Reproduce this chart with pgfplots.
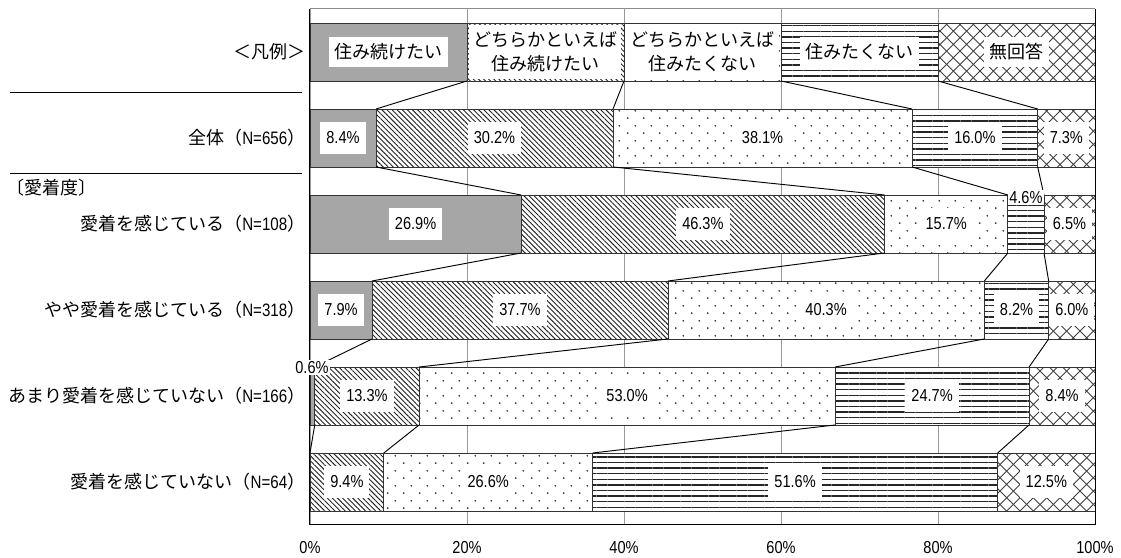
\documentclass[border=0pt]{standalone}
\usepackage{fontspec}
\setmainfont{Noto Sans CJK JP}
\newfontfamily\nf{Liberation Sans}[FakeStretch=0.84]
\usepackage{pgfplots}
\pgfplotsset{compat=1.18}
\usetikzlibrary{patterns,patterns.meta}

\pgfdeclarepatternformonly{sdots}{\pgfpointorigin}{\pgfpoint{12pt}{11.5pt}}{\pgfpoint{12pt}{11.5pt}}{%
 \pgfpathcircle{\pgfpoint{3pt}{3pt}}{0.75pt}%
 \pgfpathcircle{\pgfpoint{9pt}{8.75pt}}{0.75pt}%
 \pgfusepath{fill}}
\pgfdeclarepatternformonly{xhatch}{\pgfpoint{-0.5pt}{-0.5pt}}{\pgfpoint{10.5pt}{10.5pt}}{\pgfpoint{10pt}{10pt}}{%
 \pgfsetlinewidth{0.65pt}%
 \pgfpathmoveto{\pgfpoint{0pt}{0pt}}\pgfpathlineto{\pgfpoint{10pt}{10pt}}%
 \pgfpathmoveto{\pgfpoint{0pt}{10pt}}\pgfpathlineto{\pgfpoint{10pt}{0pt}}%
 \pgfusepath{stroke}}

\definecolor{barfill}{HTML}{A6A6A6}
\newcommand\lf{\fontsize{13.5pt}{18pt}\selectfont}
\newcommand\vf{\nf\fontsize{13pt}{15pt}\selectfont}

\begin{document}
\begin{tikzpicture}
\pgfplotsset{common/.style={scale only axis, width=588.75pt, height=387pt,
  xmin=0, xmax=100, ymin=-0.5, ymax=5.5}}
\begin{axis}[common,
  xbar stacked, bar width=0.674,
  xtick={0,20,40,60,80,100},
  xticklabels={0\%,20\%,40\%,60\%,80\%,100\%},
  xticklabel style={font=\vf, yshift=-8.5pt},
  ytick={0,1,2,3,4,5},
  yticklabels={
    {愛着を感じていない（{\nf N=64}）},
    {あまり愛着を感じていない（{\nf N=166}）},
    {やや愛着を感じている（{\nf N=318}）},
    {愛着を感じている（{\nf N=108}）},
    {全体（{\nf N=656}）},
    {＜凡例＞}},
  yticklabel style={font=\lf},
  xmajorgrids, grid style={black!40, line width=0.6pt},
  major tick length=0pt,
  axis line style={draw=none},
]
\addplot[fill=barfill, draw=black!80, line width=0.6pt]
  coordinates {(0,0) (0.6,1) (7.9,2) (26.9,3) (8.4,4) (20,5)};
\addplot[fill=white, postaction={pattern={Lines[angle=-45,distance=2.7pt,line width=0.7pt]}, pattern color=black!85}, draw=black!80, line width=0.6pt]
  coordinates {(9.4,0) (13.3,1) (37.7,2) (46.3,3) (30.2,4) (20,5)};
\addplot[fill=white, postaction={pattern=sdots, pattern color=black!80}, draw=black!80, line width=0.6pt]
  coordinates {(26.6,0) (53.0,1) (40.3,2) (15.7,3) (38.1,4) (20,5)};
\addplot[fill=white, postaction={pattern={Lines[angle=0,distance=4.2pt,line width=1.1pt]}, pattern color=black!85}, draw=black!80, line width=0.6pt]
  coordinates {(51.6,0) (24.7,1) (8.2,2) (4.6,3) (16.0,4) (20,5)};
\addplot[fill=white, postaction={pattern=xhatch, pattern color=black!75}, draw=black!80, line width=0.6pt]
  coordinates {(12.5,0) (8.4,1) (6.0,2) (6.5,3) (7.3,4) (20,5)};
\end{axis}

\begin{axis}[common, hide axis, clip=false]
\draw[black, line width=0.75pt] (rel axis cs:0,1) -- (rel axis cs:0,0) -- (rel axis cs:1,0) -- (rel axis cs:1,1);
\draw[black!45, line width=0.75pt] (rel axis cs:0,1) -- (rel axis cs:1,1);
% connectors
\addplot[black, line width=0.7pt, mark=none] coordinates {(20,4.663) (8.4,4.337)};
\addplot[black, line width=0.7pt, mark=none] coordinates {(40,4.663) (38.6,4.337)};
\addplot[black, line width=0.7pt, mark=none] coordinates {(60,4.663) (76.7,4.337)};
\addplot[black, line width=0.7pt, mark=none] coordinates {(80,4.663) (92.7,4.337)};
\addplot[black, line width=0.7pt, mark=none] coordinates {(8.4,3.663) (26.9,3.337)};
\addplot[black, line width=0.7pt, mark=none] coordinates {(38.6,3.663) (73.2,3.337)};
\addplot[black, line width=0.7pt, mark=none] coordinates {(76.7,3.663) (88.9,3.337)};
\addplot[black, line width=0.7pt, mark=none] coordinates {(92.7,3.663) (93.5,3.337)};
\addplot[black, line width=0.7pt, mark=none] coordinates {(26.9,2.663) (7.9,2.337)};
\addplot[black, line width=0.7pt, mark=none] coordinates {(73.2,2.663) (45.6,2.337)};
\addplot[black, line width=0.7pt, mark=none] coordinates {(88.9,2.663) (85.9,2.337)};
\addplot[black, line width=0.7pt, mark=none] coordinates {(93.5,2.663) (94.1,2.337)};
\addplot[black, line width=0.7pt, mark=none] coordinates {(7.9,1.663) (0.6,1.337)};
\addplot[black, line width=0.7pt, mark=none] coordinates {(45.6,1.663) (13.9,1.337)};
\addplot[black, line width=0.7pt, mark=none] coordinates {(85.9,1.663) (66.9,1.337)};
\addplot[black, line width=0.7pt, mark=none] coordinates {(94.1,1.663) (91.6,1.337)};
\addplot[black, line width=0.7pt, mark=none] coordinates {(0.6,0.663) (0,0.337)};
\addplot[black, line width=0.7pt, mark=none] coordinates {(13.9,0.663) (9.4,0.337)};
\addplot[black, line width=0.7pt, mark=none] coordinates {(66.9,0.663) (36.0,0.337)};
\addplot[black, line width=0.7pt, mark=none] coordinates {(91.6,0.663) (87.6,0.337)};
% value labels
\addplot[draw=none, mark=none, point meta=explicit,
  nodes near coords={\pgfmathprintnumber[fixed,fixed zerofill,precision=1,assume math mode=true]{\pgfplotspointmeta}\%},
  every node near coord/.append style={anchor=center, fill=white, font=\vf, inner xsep=4.5pt, inner ysep=0pt, minimum height=24pt}]
  table[meta=v] {
x y v
4.2 4 8.4
23.5 4 30.2
57.65 4 38.1
84.7 4 16.0
96.35 4 7.3
13.45 3 26.9
50.05 3 46.3
81.05 3 15.7
96.75 3 6.5
3.95 2 7.9
26.75 2 37.7
65.75 2 40.3
90.0 2 8.2
97.05 2 6.0
7.25 1 13.3
40.4 1 53.0
79.25 1 24.7
95.8 1 8.4
4.7 0 9.4
22.7 0 26.6
61.8 0 51.6
93.8 0 12.5
};
\addplot[draw=none, mark=none, point meta=explicit,
  nodes near coords={\pgfmathprintnumber[fixed,fixed zerofill,precision=1,assume math mode=true]{\pgfplotspointmeta}\%},
  every node near coord/.append style={anchor=center, fill=white, font=\vf, inner sep=1pt}]
  table[meta=v] {
x y v
91.2 3.31 4.6
0.25 1.335 0.6
};
% legend row labels
\node[fill=white, font=\lf, inner xsep=4pt, inner ysep=2pt, minimum height=23pt] at (axis cs:10,5) {住み続けたい};
\node[fill=white, font=\lf, align=center, minimum width=114pt, minimum height=41pt, inner sep=1pt] at (axis cs:30,5) {どちらかといえば\\住み続けたい};
\node[fill=white, font=\lf, align=center, minimum width=114pt, minimum height=41pt, inner sep=1pt] at (axis cs:50,5) {どちらかといえば\\住みたくない};
\node[fill=white, font=\lf, inner xsep=4pt, inner ysep=2pt, minimum height=23pt] at (axis cs:70,5) {住みたくない};
\node[fill=white, font=\lf, inner xsep=4pt, inner ysep=2pt, minimum height=23pt] at (axis cs:90,5) {無回答};
% left side separators and group title
\draw[black, line width=0.9pt] ([xshift=-225pt]axis cs:0,4.53) -- ([xshift=-6pt]axis cs:0,4.53);
\draw[black, line width=0.9pt] ([xshift=-225pt]axis cs:0,3.59) -- ([xshift=-6pt]axis cs:0,3.59);
\node[anchor=west, font=\lf, inner sep=0pt] at ([xshift=-228pt]axis cs:0,3.42) {〔愛着度〕};
% bounding box
\path ([xshift=-232.5pt,yshift=-23.25pt]rel axis cs:0,0) rectangle ([xshift=19.5pt,yshift=6.75pt]rel axis cs:1,1);
\end{axis}
\end{tikzpicture}
\end{document}
